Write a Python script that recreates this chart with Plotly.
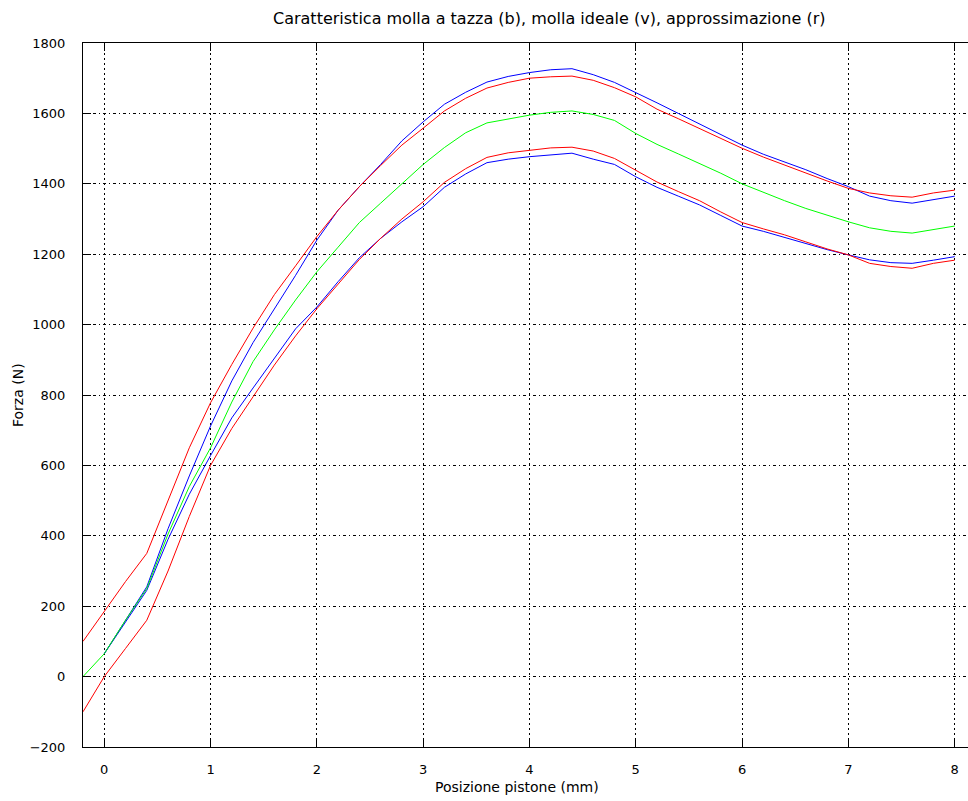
import plotly.graph_objects as go

# x grid (mm)
x_full = [-0.2, 0.0, 0.2, 0.4, 0.6, 0.8, 1.0, 1.2, 1.4, 1.6, 1.8, 2.0, 2.2, 2.4, 2.6, 2.8,
          3.0, 3.2, 3.4, 3.6, 3.8, 4.0, 4.2, 4.4, 4.6, 4.8, 5.0, 5.2, 5.4, 5.6, 5.8,
          6.0, 6.2, 6.4, 6.6, 6.8, 7.0, 7.2, 7.4, 7.6, 7.8, 8.0]
x_blue = x_full[1:]

# molla ideale (verde)
green = [0, 65, 160, 250, 405, 540, 650, 780, 895, 985, 1070, 1150, 1220, 1290, 1345, 1400,
         1455, 1503, 1545, 1573, 1585, 1595, 1603, 1607, 1597, 1580, 1543, 1512, 1485, 1458, 1430,
         1400, 1375, 1352, 1330, 1310, 1292, 1275, 1265, 1260, 1270, 1280]

# approssimazione (rosso)
red_up = [100, 185, 270, 350, 500, 650, 778, 887, 990, 1085, 1167, 1250, 1325, 1392, 1452, 1510,
          1558, 1607, 1643, 1672, 1688, 1700, 1704, 1706, 1694, 1673, 1647, 1612, 1585, 1557, 1530,
          1501, 1476, 1453, 1430, 1408, 1387, 1374, 1366, 1362, 1374, 1382]
red_lo = [-100, 0, 80, 160, 300, 455, 600, 705, 795, 885, 968, 1045, 1115, 1185, 1245, 1300,
          1349, 1404, 1443, 1475, 1488, 1496, 1502, 1504, 1493, 1472, 1439, 1405, 1378, 1352, 1320,
          1290, 1272, 1255, 1235, 1215, 1198, 1174, 1165, 1160, 1174, 1183]

# molla a tazza (blu)
blue_up = [65, 160, 255, 420, 570, 712, 840, 949, 1045, 1140, 1240, 1325, 1392, 1455, 1522,
           1576, 1626, 1660, 1689, 1705, 1716, 1724, 1727, 1710, 1688, 1660, 1630, 1600, 1570, 1540,
           1510, 1484, 1463, 1440, 1415, 1392, 1365, 1352, 1345, 1356, 1365]
blue_lo = [65, 155, 245, 390, 518, 628, 735, 820, 905, 988, 1050, 1122, 1190, 1245, 1292,
           1335, 1390, 1428, 1460, 1470, 1477, 1483, 1487, 1470, 1455, 1420, 1390, 1365, 1340, 1310,
           1280, 1265, 1247, 1230, 1213, 1198, 1184, 1176, 1174, 1183, 1193]

x_ticks = [0, 1, 2, 3, 4, 5, 6, 7, 8]
y_ticks = [-200, 0, 200, 400, 600, 800, 1000, 1200, 1400, 1600, 1800]

FONT = "DejaVu Sans"

fig = go.Figure()
lw = 1
fig.add_trace(go.Scatter(x=x_blue, y=blue_up, mode="lines", line=dict(color="#0000ff", width=lw)))
fig.add_trace(go.Scatter(x=x_blue, y=blue_lo, mode="lines", line=dict(color="#0000ff", width=lw)))
fig.add_trace(go.Scatter(x=x_full, y=red_up, mode="lines", line=dict(color="#ff0000", width=lw)))
fig.add_trace(go.Scatter(x=x_full, y=red_lo, mode="lines", line=dict(color="#ff0000", width=lw)))
fig.add_trace(go.Scatter(x=x_full, y=green, mode="lines", line=dict(color="#00ff00", width=lw)))

L, T, B, R = 83, 43, 54, 0
W, H = 968, 801
pw = W - L - R
ph = H - T - B

fig.update_layout(
    width=W, height=H,
    margin=dict(l=L, r=R, t=T, b=B, pad=0),
    paper_bgcolor="white", plot_bgcolor="white",
    showlegend=False,
    font=dict(family=FONT, size=13, color="black"),
    xaxis=dict(range=[-0.2, -0.2 + pw / 106.3], tickvals=x_ticks,
               showline=True, linecolor="black", linewidth=1, mirror="ticks",
               ticks="inside", ticklen=8, tickcolor="black", ticklabelstandoff=10,
               showgrid=True, gridcolor="black", gridwidth=1, griddash="2px,3px",
               zeroline=False, tickfont=dict(size=13, family=FONT)),
    yaxis=dict(range=[-200, 1800], tickvals=y_ticks,
               showline=True, linecolor="black", linewidth=1, mirror=False,
               ticks="inside", ticklen=8, tickcolor="black", ticklabelstandoff=14,
               showgrid=True, gridcolor="black", gridwidth=1, griddash="3px,3px,1px,3px",
               zeroline=False, tickfont=dict(size=13, family=FONT)),
    annotations=[
        dict(text="Caratteristica molla a tazza (b), molla ideale (v), approssimazione (r)",
             xref="paper", yref="paper", x=(549 - L) / pw, y=(H - B - 18) / ph,
             xanchor="center", yanchor="middle", showarrow=False,
             font=dict(size=16, family=FONT)),
        dict(text="Posizione pistone (mm)", xref="paper", yref="paper",
             x=(517 - L) / pw, y=(H - B - 787) / ph, xanchor="center", yanchor="middle",
             showarrow=False, font=dict(size=14, family=FONT)),
        dict(text="Forza (N)", xref="paper", yref="paper", textangle=-90,
             x=(18 - L) / pw, y=(H - B - 395) / ph, xanchor="center", yanchor="middle",
             showarrow=False, font=dict(size=14, family=FONT)),
    ],
)

fig.write_html("out.html")
